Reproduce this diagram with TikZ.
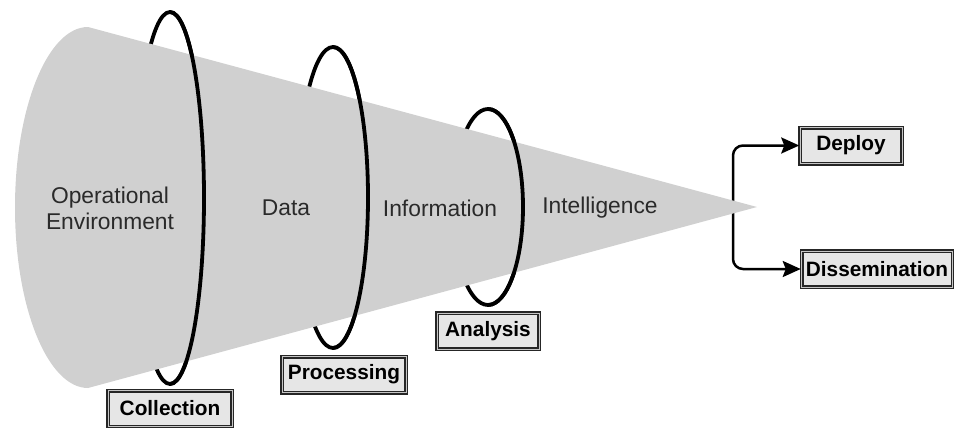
\documentclass[tikz,border=0pt]{standalone}
\usepackage{fontspec}
\setmainfont{Liberation Sans}
\usepackage{xcolor}
\usetikzlibrary{arrows.meta,calc,positioning}
\definecolor{conegray}{HTML}{D0D0D0}
\definecolor{boxgray}{HTML}{E6E6E6}
\definecolor{labelgray}{HTML}{2A2A2A}

\begin{document}
\begin{tikzpicture}[x=0.5pt,y=-0.5pt,
  ring/.style={line width=1.9pt,black},
  stage/.style={text=labelgray,font=\fontsize{11.4}{13}\selectfont,align=center},
  tagbox/.style={draw=black!85,double=gray!45,double distance=0.5pt,line width=0.75pt,
    fill=boxgray,font=\fontsize{10.4}{12}\selectfont\bfseries,minimum height=18pt,inner sep=1pt},
  flow/.style={line width=1.25pt,rounded corners=5pt,-{Stealth[length=9pt,width=8pt,inset=1.5pt]}}]
  \useasboundingbox (0,0) rectangle (954,428);

  % back halves of the rings
  \draw[ring] (170,198) ellipse [x radius=34, y radius=186];
  \draw[ring] (333,197.5) ellipse [x radius=35, y radius=150.5];
  \draw[ring] (488,207) ellipse [x radius=35, y radius=98];

  % output boxes and branches
  \node[tagbox,minimum width=51pt] (deploy) at (851,145.5) {Deploy};
  \node[tagbox,minimum width=75.5pt] (dissem) at (877,269) {Dissemination};
  \coordinate (split) at (733,207);
  \draw[flow] (split) |- (deploy.west);
  \draw[flow] (split) |- (dissem.west);

  % funnel
  \fill[conegray] (88,27) -- (757,207) -- (88,388)
    arc[start angle=90, end angle=270, x radius=73, y radius=180.5] -- cycle;

  % front halves of the rings
  \begin{scope}
    \clip (170,0) rectangle (260,428);
    \draw[ring] (170,198) ellipse [x radius=34, y radius=186];
  \end{scope}
  \begin{scope}
    \clip (333,0) rectangle (420,428);
    \draw[ring] (333,197.5) ellipse [x radius=35, y radius=150.5];
  \end{scope}
  \begin{scope}
    \clip (488,0) rectangle (570,428);
    \draw[ring] (488,207) ellipse [x radius=35, y radius=98];
  \end{scope}

  % stages
  \node[stage] (env) at (110,208) {Operational\\Environment};
  \node[stage] (data) at (286,208) {Data};
  \node[stage] (info) at (440,208) {Information};
  \node[stage] (intel) at (600,208) {Intelligence};

  % ring labels
  \node[tagbox,minimum width=62pt] (coll) at (170,408.5) {Collection};
  \node[tagbox,minimum width=62pt] (proc) at (344,374.5) {Processing};
  \node[tagbox,minimum width=51pt] (anal) at (488,331) {Analysis};
\end{tikzpicture}
\end{document}
